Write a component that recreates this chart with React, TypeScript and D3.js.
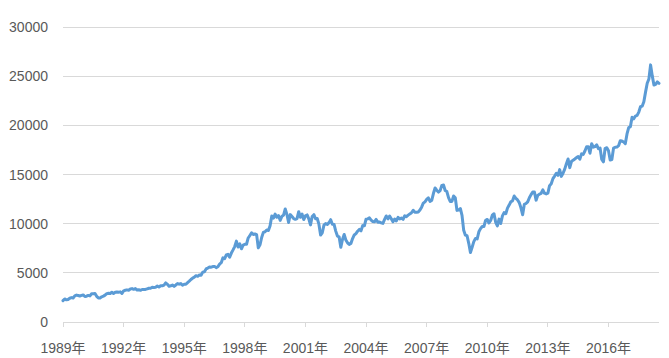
import React from "react";
import * as d3 from "d3";

// Month-start values (previous month close), Jan 1989 .. Jul 2018
const values: number[] = [
  2169,
  // 1989
  2342, 2258, 2293, 2419, 2480, 2440, 2660, 2737, 2692, 2645, 2706, 2753,
  // 1990
  2590, 2627, 2707, 2657, 2877, 2881, 2905, 2614, 2453, 2442, 2560, 2634,
  // 1991
  2736, 2882, 2914, 2888, 3028, 2907, 3025, 3044, 3017, 3070, 2895, 3169,
  // 1992
  3224, 3267, 3236, 3359, 3397, 3319, 3394, 3257, 3272, 3227, 3305, 3301,
  // 1993
  3310, 3371, 3435, 3428, 3527, 3516, 3540, 3651, 3555, 3681, 3684, 3754,
  // 1994
  3978, 3832, 3636, 3682, 3758, 3625, 3765, 3913, 3843, 3908, 3739, 3834,
  // 1995
  3844, 4011, 4158, 4321, 4465, 4556, 4709, 4647, 4789, 4756, 5075, 5117,
  // 1996
  5395, 5486, 5588, 5569, 5643, 5655, 5529, 5616, 5882, 6029, 6522, 6448,
  // 1997
  6813, 6878, 6584, 7009, 7331, 7673, 8223, 7622, 7945, 7442, 7823, 7908,
  // 1998
  7907, 8546, 8800, 9063, 8900, 8952, 8883, 7539, 7843, 8592, 9117, 9181,
  // 1999
  9359, 9307, 9786, 10789, 10560, 10971, 10655, 10829, 10337, 10730, 10878, 11497,
  // 2000
  10941, 10128, 10922, 10734, 10522, 10448, 10522, 11215, 10651, 10971, 10415, 10788,
  // 2001
  10887, 10495, 9879, 10735, 10912, 10502, 10523, 9950, 8848, 9075, 9852, 10022,
  // 2002
  9920, 10106, 10404, 9946, 9925, 9243, 8737, 8664, 7592, 8397, 8896, 8342,
  // 2003
  8054, 7891, 7992, 8480, 8850, 8985, 9234, 9416, 9275, 9801, 9782, 10454,
  // 2004
  10488, 10584, 10358, 10226, 10188, 10435, 10140, 10174, 10080, 10027, 10428, 10783,
  // 2005
  10490, 10766, 10504, 10193, 10467, 10275, 10641, 10482, 10569, 10440, 10806, 10718,
  // 2006
  10865, 10993, 11109, 11367, 11168, 11150, 11186, 11381, 11679, 12081, 12222, 12463,
  // 2007
  12622, 12268, 12354, 13063, 13628, 13409, 13212, 13358, 13896, 13930, 13372, 13265,
  // 2008
  12650, 12266, 12263, 12820, 12638, 11350, 11378, 11544, 10851, 9325, 8829, 8776,
  // 2009
  8001, 7063, 7609, 8168, 8500, 8447, 9172, 9496, 9712, 9713, 10345, 10428,
  // 2010
  10067, 10325, 10857, 11009, 10137, 9774, 10466, 10015, 10788, 11118, 11006, 11578,
  // 2011
  11892, 12226, 12320, 12811, 12570, 12414, 12143, 11614, 10913, 11955, 12046, 12218,
  // 2012
  12633, 12952, 13212, 13214, 12393, 12880, 13009, 13091, 13437, 13096, 13026, 13104,
  // 2013
  13861, 14054, 14579, 14840, 15116, 14910, 15500, 14810, 15130, 15546, 16086, 16577,
  // 2014
  15699, 16322, 16458, 16581, 16717, 16827, 16563, 17098, 17043, 17391, 17828, 17823,
  // 2015
  17165, 18133, 17776, 17841, 18011, 17620, 17690, 16528, 16285, 17664, 17720, 17425,
  // 2016
  16466, 16517, 17685, 17774, 17787, 17930, 18432, 18401, 18308, 18142, 19124, 19763,
  // 2017
  19864, 20812, 20663, 20941, 21009, 21350, 21891, 21948, 22405, 23377, 24272, 24719,
  // 2018
  26149, 25029, 24103, 24163, 24416, 24271,
];

const tickYears: string[] = ["1989年", "1992年", "1995年", "1998年", "2001年", "2004年", "2007年", "2010年", "2013年", "2016年"];
const yTicks: number[] = [0, 5000, 10000, 15000, 20000, 25000, 30000];

const W = 669;
const H = 358;
const FONT = "'Liberation Sans', 'Noto Sans CJK JP', sans-serif";

export default function App() {
  const x = d3.scaleLinear().domain([0, values.length - 1]).range([63, 659]);
  const y = d3.scaleLinear().domain([0, 30000]).range([322, 27]);
  const line = d3
    .line<number>()
    .x((_, i) => x(i))
    .y((d) => y(d));

  return (
    <svg
      width={W}
      height={H}
      style={{ position: "absolute", left: 0, top: 0, background: "#fff" }}
      fontFamily={FONT}
    >
      {yTicks.map((t) => (
        <g key={t}>
          <line x1={63} x2={659} y1={y(t)} y2={y(t)} stroke="#d9d9d9" strokeWidth={1} shapeRendering="crispEdges" />
          <text x={48} y={y(t)} dy="0.36em" textAnchor="end" fontSize={14} fill="#595959">
            {t}
          </text>
        </g>
      ))}
      {tickYears.map((lab, k) => {
        const xi = x(k * 36);
        return (
          <g key={lab}>
            <line x1={xi} x2={xi} y1={322} y2={327} stroke="#d9d9d9" strokeWidth={1} shapeRendering="crispEdges" />
            <text x={xi} y={353} textAnchor="middle" fontSize={14} fill="#595959">
              {lab}
            </text>
          </g>
        );
      })}
      <path d={line(values) || ""} fill="none" stroke="#5b9bd5" strokeWidth={3} strokeLinejoin="round" strokeLinecap="round" />
    </svg>
  );
}
